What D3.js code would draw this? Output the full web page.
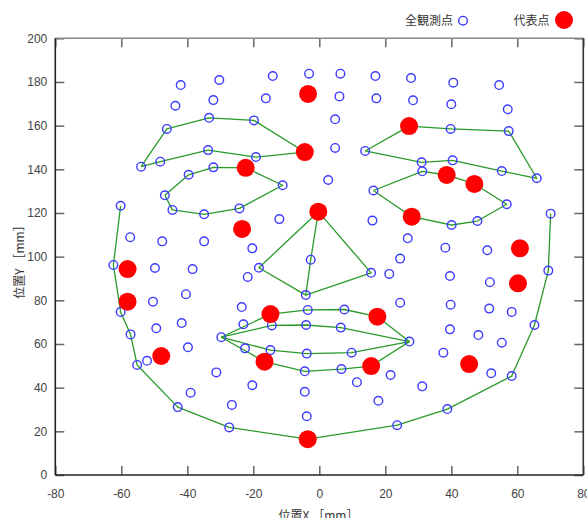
<!DOCTYPE html>
<html>
<head>
<meta charset="utf-8">
<script src="https://cdn.jsdelivr.net/npm/d3@7"></script>
<style>
  html, body { margin: 0; padding: 0; background: #fff; }
  svg { display: block; }
  .tick text { font-family: "Liberation Sans Narrow", "Arial Narrow", "Liberation Sans", Arial, sans-serif; font-size: 12px; fill: #444; }
  .lbl { font-family: "Noto Sans CJK JP", "Noto Sans", sans-serif; font-size: 12px; fill: #333; }
</style>
</head>
<body>
<div id="chart"></div>
<script>
// Axis ranges and tick labels
const xTicks = [-80, -60, -40, -20, 0, 20, 40, 60, 80];
const yTicks = [0, 20, 40, 60, 80, 100, 120, 140, 160, 180, 200];

// All observed landmark positions [mm]
const obsX = [
  -42.0, -30.3, -14.1, -3.1, 6.4, 17.0, 27.8, 40.6, 54.5,
  -43.6, -32.1, -16.2, 6.1, 17.3, 28.4, 40.0, 57.1, 4.8,
  -46.2, -33.4, -19.8, -54.0, -48.2, -33.7, -19.2,
  39.8, 57.4, 65.9, 55.3, 40.4, 31.0, 13.9,
  4.8, 2.7,
  -46.8, -39.6, -32.1, -11.1, -24.2, -34.9, -44.5,
  16.4, 31.2, 56.8, 47.9, 40.1,
  -60.2, 70.1, -12.1, 16.1,
  -57.3, -47.6, -34.9, -20.3, 26.8, 38.2, 50.9,
  -62.4, -49.8, -38.4, -18.3, -21.7, -2.6, 24.5, 15.7, 21.2, 39.6, 51.7, 69.4,
  -4.1, -40.4, -50.4, -23.5, 24.5, 39.8, 51.5, 58.3, -60.2,
  -3.5, 7.6,
  -41.7, -49.4, -23.0, -14.4, -4.0, 6.5, 39.6, 65.2,
  -57.2, -29.7, 27.3, 48.2, 55.3,
  -39.8, -22.5, -14.8, -3.8, 9.8, 37.6,
  -52.2, -55.2, -31.2, -4.4, 6.7, 21.6, 52.1, 58.3,
  -20.3, 11.4, 31.2, -39.0, -4.4, 17.9,
  -42.9, -26.5, 38.8, -3.8, -27.3, 23.6
];
const obsY = [
  178.6, 180.9, 182.7, 183.8, 183.8, 182.7, 181.8, 179.7, 178.6,
  169.1, 171.7, 172.5, 173.4, 172.5, 171.6, 169.8, 167.5, 162.9,
  158.5, 163.6, 162.4, 141.2, 143.5, 148.8, 145.6,
  158.5, 157.5, 135.9, 139.2, 144.1, 143.2, 148.4,
  149.8, 135.1,
  128.1, 137.5, 140.9, 132.7, 122.1, 119.4, 121.4,
  130.3, 139.1, 124.0, 116.3, 114.5,
  123.3, 119.7, 117.2, 116.5,
  108.9, 107.0, 107.0, 103.8, 108.4, 104.1, 102.9,
  96.2, 94.8, 94.3, 94.9, 90.7, 98.6, 99.1, 92.6, 92.1, 91.1, 88.3, 93.6,
  82.4, 82.8, 79.4, 76.9, 78.9, 78.0, 76.2, 74.7, 74.7,
  75.6, 75.8,
  69.6, 67.2, 69.0, 68.5, 68.7, 67.5, 66.7, 68.7,
  64.4, 63.1, 61.1, 64.1, 60.6,
  58.5, 58.0, 57.2, 55.6, 56.0, 56.0,
  52.3, 50.4, 47.0, 47.5, 48.5, 45.8, 46.6, 45.3,
  41.1, 42.5, 40.6, 37.7, 38.1, 34.0,
  31.1, 32.1, 30.2, 26.9, 21.8, 22.8
];

// Representative points [mm]
const repX = [-3.4, -4.4, 27.2, -22.3, 38.6, 47.0, -0.3, 28.0, -23.4, 60.8,
              -58.1, 60.2, -58.1, -14.8, 17.6, -47.9, -16.6, 15.7, 45.4, -3.5];
const repY = [174.5, 147.9, 159.8, 140.7, 137.4, 133.3, 120.6, 118.3, 112.7, 103.8,
              94.3, 87.8, 79.4, 73.7, 72.5, 54.5, 51.9, 49.9, 50.8, 16.4];

// Feature outlines, as [x, y] in mm
const browLeft = [[-54.0,141.2],[-46.2,158.5],[-33.4,163.6],[-19.8,162.4],[-4.4,147.9],
                  [-19.2,145.6],[-33.7,148.8],[-48.2,143.5],[-54.0,141.2]];
const browRight = [[13.9,148.4],[27.2,159.8],[39.8,158.5],[57.4,157.5],[65.9,135.9],
                   [55.3,139.2],[40.4,144.1],[31.0,143.2],[13.9,148.4]];
const eyeLeft = [[-46.8,128.1],[-39.6,137.5],[-32.1,140.9],[-22.3,140.7],[-11.1,132.7],
                 [-24.2,122.1],[-34.9,119.4],[-44.5,121.4],[-46.8,128.1]];
const eyeRight = [[16.4,130.3],[31.2,139.1],[38.6,137.4],[47.0,133.3],[56.8,124.0],
                  [47.9,116.3],[40.1,114.5],[28.0,118.3],[16.4,130.3]];
const noseOutline = [[-0.3,120.6],[-18.3,94.9],[-4.1,82.4],[15.7,92.6],[-0.3,120.6]];
const noseRidge = [[-0.3,120.6],[-2.6,98.6],[-4.1,82.4]];
const lipOuterUpper = [[-29.7,63.1],[-14.8,73.7],[-3.5,75.6],[7.6,75.8],[17.6,72.5],[27.3,61.1]];
const lipInnerUpper = [[-29.7,63.1],[-14.4,68.5],[-4.0,68.7],[6.5,67.5],[27.3,61.1]];
const lipInnerLower = [[-29.7,63.1],[-14.8,57.2],[-3.8,55.6],[9.8,56.0],[27.3,61.1]];
const lipOuterLower = [[-29.7,63.1],[-16.6,51.9],[-4.4,47.5],[6.7,48.5],[15.7,49.9],[27.3,61.1]];
const jawLine = [[-60.2,123.3],[-62.4,96.2],[-60.2,74.7],[-57.2,64.4],[-55.2,50.4],[-42.9,31.1],
                 [-27.3,21.8],[-3.5,16.4],[23.6,22.8],[38.8,30.2],[58.3,45.3],[65.2,68.7],
                 [69.4,93.6],[70.1,119.7]];
const outlines = [browLeft, browRight, eyeLeft, eyeRight, noseOutline, noseRidge,
                  lipOuterUpper, lipInnerUpper, lipInnerLower, lipOuterLower, jawLine];

const W = 587, H = 518;
const plotL = 55.3, plotR = 583.3, plotT = 38.3, plotB = 475;

const svg = d3.select("#chart").append("svg").attr("width", W).attr("height", H);

const x = d3.scaleLinear().domain([-80, 80]).range([plotL, plotR]);
const y = d3.scaleLinear().domain([0, 200]).range([plotB, plotT]);

// Inward ticks on all four sides
const tickLen = 9;
const fmt = d => String(d);
const gB = svg.append("g").attr("transform", `translate(0,${plotB})`)
  .call(d3.axisBottom(x).tickValues(xTicks).tickFormat(fmt).tickSizeInner(-tickLen).tickSizeOuter(0).tickPadding(14));
const gL = svg.append("g").attr("transform", `translate(${plotL},0)`)
  .call(d3.axisLeft(y).tickValues(yTicks).tickFormat(fmt).tickSizeInner(-tickLen).tickSizeOuter(0).tickPadding(8));
const gT = svg.append("g").attr("transform", `translate(0,${plotT})`)
  .call(d3.axisTop(x).tickValues(xTicks).tickFormat("").tickSizeInner(-tickLen).tickSizeOuter(0));
const gR = svg.append("g").attr("transform", `translate(${plotR},0)`)
  .call(d3.axisRight(y).tickValues(yTicks).tickFormat("").tickSizeInner(-tickLen).tickSizeOuter(0));
[gB, gL, gT, gR].forEach(g => {
  g.select(".domain").remove();
  g.selectAll(".tick line").attr("stroke", "#666").attr("stroke-width", 1.5);
});

// Plot frame
svg.append("line").attr("x1", plotL).attr("x2", plotR).attr("y1", plotT).attr("y2", plotT)
  .attr("stroke", "#888").attr("stroke-width", 1.6);
svg.append("line").attr("x1", plotR).attr("x2", plotR).attr("y1", plotT).attr("y2", plotB)
  .attr("stroke", "#333").attr("stroke-width", 1.6);
svg.append("line").attr("x1", plotL).attr("x2", plotL).attr("y1", plotT).attr("y2", plotB)
  .attr("stroke", "#222").attr("stroke-width", 1.6);
svg.append("line").attr("x1", plotL).attr("x2", plotR).attr("y1", plotB).attr("y2", plotB)
  .attr("stroke", "#222").attr("stroke-width", 1.6);

// Feature outlines
const line = d3.line().x(d => x(d[0])).y(d => y(d[1]));
svg.append("g").selectAll("path").data(outlines).join("path")
  .attr("d", line).attr("fill", "none")
  .attr("stroke", "#2a9a2a").attr("stroke-width", 1.3).attr("stroke-linejoin", "round");

// Observed points
svg.append("g").selectAll("circle").data(obsX.map((v, i) => [v, obsY[i]])).join("circle")
  .attr("cx", d => x(d[0])).attr("cy", d => y(d[1])).attr("r", 4.3)
  .attr("fill", "none").attr("stroke", "#3c3cff").attr("stroke-width", 1.4);

// Representative points
svg.append("g").selectAll("circle").data(repX.map((v, i) => [v, repY[i]])).join("circle")
  .attr("cx", d => x(d[0])).attr("cy", d => y(d[1])).attr("r", 9)
  .attr("fill", "#ff0000");

// Legend
svg.append("text").attr("class", "lbl").attr("x", 453).attr("y", 25).attr("text-anchor", "end").text("全観測点");
svg.append("circle").attr("cx", 463).attr("cy", 20.7).attr("r", 4.3)
  .attr("fill", "none").attr("stroke", "#3c3cff").attr("stroke-width", 1.4);
svg.append("text").attr("class", "lbl").attr("x", 549.5).attr("y", 25).attr("text-anchor", "end").text("代表点");
svg.append("circle").attr("cx", 564).attr("cy", 20).attr("r", 9).attr("fill", "#ff0000");

// Axis titles
svg.append("text").attr("class", "lbl").attr("x", 318.5).attr("y", 520).attr("text-anchor", "middle").text("位置X ［mm］");
svg.append("text").attr("class", "lbl").attr("transform", "translate(24,259) rotate(-90)")
  .attr("text-anchor", "middle").text("位置Y ［mm］");
</script>
</body>
</html>
